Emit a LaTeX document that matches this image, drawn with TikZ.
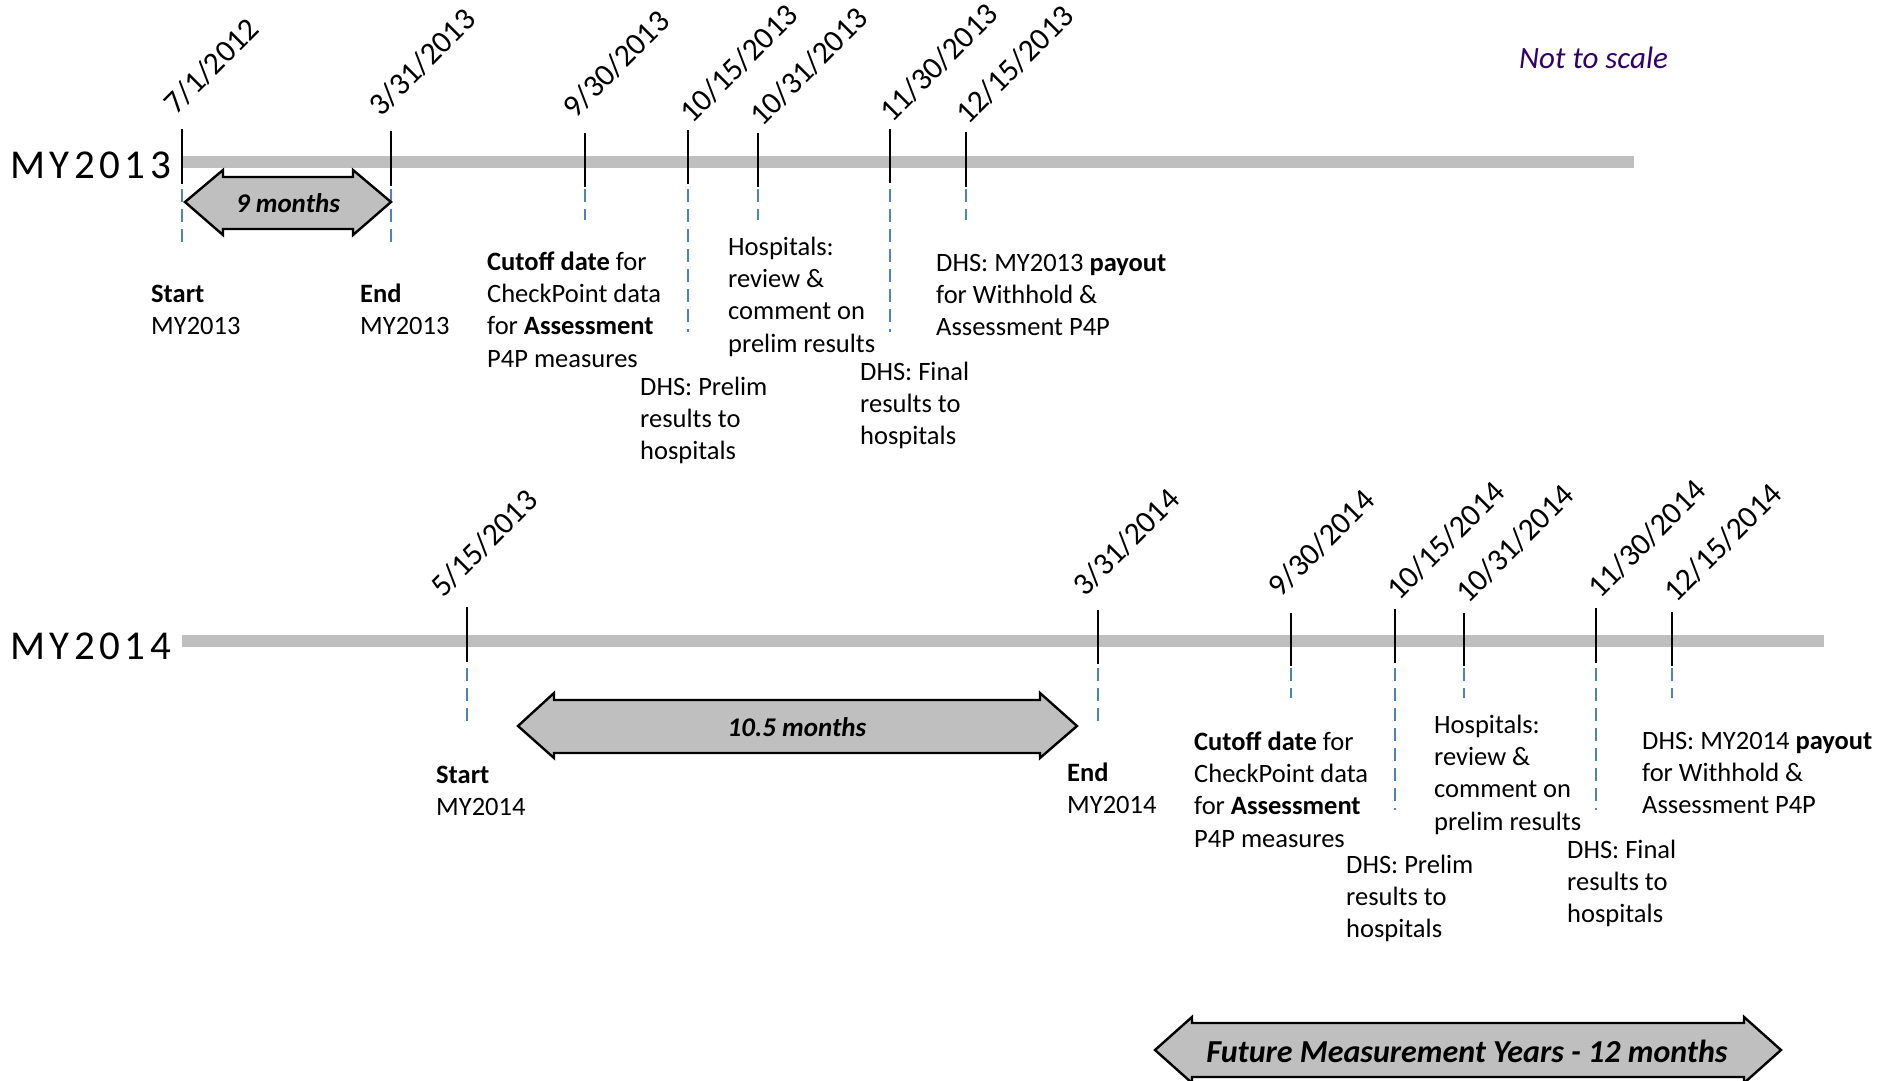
\documentclass[tikz,border=0pt]{standalone}
\usepackage{fontspec}
\setmainfont{Carlito}
\newfontfamily\bigfont[LetterSpace=11]{Carlito}
\definecolor{barGray}{RGB}{191,191,191}
\definecolor{arrowGray}{RGB}{191,191,191}
\definecolor{dashBlue}{RGB}{79,129,189}
\definecolor{noteViolet}{RGB}{51,0,102}
\newcommand\blocklines[1]{\begin{tabular}[t]{@{}l@{}}#1\end{tabular}}
\begin{document}
\begin{tikzpicture}[x=1pt,y=-1pt,
  barline/.style={line width=12pt, draw=barGray},
  tickline/.style={line width=2.5pt, draw=black},
  dashline/.style={line width=1.6pt, draw=dashBlue, dash pattern=on 13pt off 7pt},
  datelbl/.style={rotate=45, anchor=base west, inner sep=0pt, font=\fontsize{31.5}{38}\selectfont},
  bodytxt/.style={anchor=base west, inner sep=0pt, font=\fontsize{26.5}{32.4}\selectfont},
  yearlbl/.style={anchor=base west, inner sep=0pt, font=\bigfont\fontsize{41}{47}\selectfont},
  dblarrow/.style={fill=arrowGray, draw=black, line width=2.4pt, line join=miter},
  arrowtxt/.style={inner sep=0pt, font=\fontsize{27}{32}\selectfont\bfseries\itshape}]
\useasboundingbox (0,0) rectangle (1898,1081);
\clip (0,0) rectangle (1898,1081);
\fill[white] (0,0) rectangle (1898,1081);

% ---------- MY2013 ----------
\node[yearlbl] (y13) at (10,178) {MY2013};
\coordinate (b13s) at (182,162);
\coordinate (b13e) at (1634,162);
\draw[barline] (b13s) -- (b13e);

\foreach \x/\ta/\tb/\de in {182/129/184/247, 391/131/186/247, 585/133/187/220, 688/130/184/332, 758/133/187/220, 890/129/183/332, 966/132/187/220}{
  \draw[tickline] (\x,\ta) -- (\x,\tb);
  \draw[dashline] (\x,189) -- (\x,\de);
}

\node[datelbl] (d1) at (176,116) {7/1/2012};
\node[datelbl] (d2) at (381,118) {3/31/2013};
\node[datelbl] (d3) at (575,120) {9/30/2013};
\node[datelbl] (d4) at (692,125) {10/15/2013};
\node[datelbl] (d5) at (762,128) {10/31/2013};
\node[datelbl] (d6) at (892,124) {11/30/2013};
\node[datelbl] (d7) at (968,126) {12/15/2013};

\draw[dblarrow] (185,202) -- (223,170) -- (223,177) -- (353,177) -- (353,170) -- (391,202)
  -- (353,235) -- (353,229) -- (223,229) -- (223,235) -- cycle;
\node[arrowtxt] (a9) at (288,203) {9 months};

\node[bodytxt] (s13) at (151,302) {\blocklines{\textbf{Start}\\MY2013}};
\node[bodytxt] (e13) at (360,302) {\blocklines{\textbf{End}\\MY2013}};
\node[bodytxt] (c13) at (487,270) {\blocklines{\textbf{Cutoff date} for\\CheckPoint data\\for \textbf{Assessment}\\P4P measures}};
\node[bodytxt] (p13) at (640,395) {\blocklines{DHS: Prelim\\results to\\hospitals}};
\node[bodytxt] (h13) at (728,255) {\blocklines{Hospitals:\\review \&\\comment on\\prelim results}};
\node[bodytxt] (f13) at (860,380) {\blocklines{DHS: Final\\results to\\hospitals}};
\node[bodytxt] (o13) at (936,271) {\blocklines{DHS: MY2013 \textbf{payout}\\for Withhold \&\\Assessment P4P}};

\node[anchor=base west, inner sep=0pt, font=\fontsize{31}{36}\selectfont\itshape, text=noteViolet] (nts) at (1519,68) {Not to scale};

% ---------- MY2014 ----------
\node[yearlbl] (y14) at (10,659) {MY2014};
\coordinate (b14s) at (182,641);
\coordinate (b14e) at (1824,641);
\draw[barline] (b14s) -- (b14e);

\foreach \x/\ta/\tb/\de in {467/607/662/727, 1098/610/664/727, 1291/613/666/698, 1395/609/663/810, 1464/613/666/698, 1596/608/663/810, 1672/612/666/698}{
  \draw[tickline] (\x,\ta) -- (\x,\tb);
  \draw[dashline] (\x,668) -- (\x,\de);
}

\node[datelbl] (g1) at (443,599) {5/15/2013};
\node[datelbl] (g2) at (1085,598) {3/31/2014};
\node[datelbl] (g3) at (1280,599) {9/30/2014};
\node[datelbl] (g4) at (1399,602) {10/15/2014};
\node[datelbl] (g5) at (1468,605) {10/31/2014};
\node[datelbl] (g6) at (1600,600) {11/30/2014};
\node[datelbl] (g7) at (1676,604) {12/15/2014};

\draw[dblarrow] (518,726) -- (554,693) -- (554,700) -- (1040,700) -- (1040,693) -- (1077,726)
  -- (1040,758) -- (1040,753) -- (554,753) -- (554,758) -- cycle;
\node[arrowtxt] (a105) at (797,727) {10.5 months};

\node[bodytxt] (s14) at (436,783) {\blocklines{\textbf{Start}\\MY2014}};
\node[bodytxt] (e14) at (1067,781) {\blocklines{\textbf{End}\\MY2014}};
\node[bodytxt] (c14) at (1194,750) {\blocklines{\textbf{Cutoff date} for\\CheckPoint data\\for \textbf{Assessment}\\P4P measures}};
\node[bodytxt] (p14) at (1346,873) {\blocklines{DHS: Prelim\\results to\\hospitals}};
\node[bodytxt] (h14) at (1434,733) {\blocklines{Hospitals:\\review \&\\comment on\\prelim results}};
\node[bodytxt] (f14) at (1567,858) {\blocklines{DHS: Final\\results to\\hospitals}};
\node[bodytxt] (o14) at (1642,749) {\blocklines{DHS: MY2014 \textbf{payout}\\for Withhold \&\\Assessment P4P}};

% ---------- Future ----------
\draw[dblarrow] (1155,1050) -- (1192,1017) -- (1192,1023) -- (1744,1023) -- (1744,1017) -- (1781,1050)
  -- (1744,1083) -- (1744,1077) -- (1192,1077) -- (1192,1083) -- cycle;
\node[arrowtxt, font=\fontsize{32}{38}\selectfont\bfseries\itshape] (fut) at (1467,1051) {Future Measurement Years - 12 months};
\end{tikzpicture}
\end{document}
